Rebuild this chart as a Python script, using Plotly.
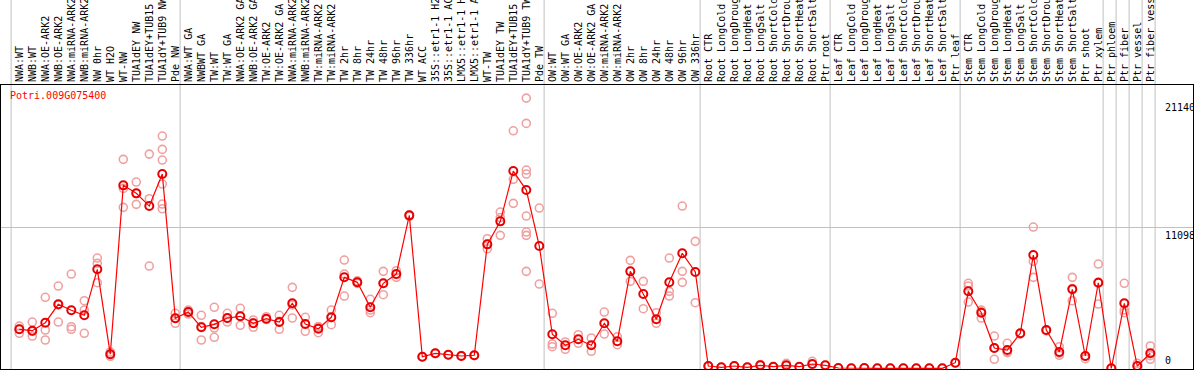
import plotly.graph_objects as go

title_text = "Potri.009G075400"

categories = [
    "NWA:WT", "NWB:WT", "NWA:OE-ARK2", "NWB:OE-ARK2", "NWA:miRNA-ARK2", "NWB:miRNA-ARK2",
    "NW 0hr", "WT H2O", "WT-NW", "TUA1dEY NW", "TUA1dEY+TUB15", "TUA1dY+TUB9 NW", "Pde NW",
    "NWA:WT GA", "NWBWT GA", "TW:WT", "TW:WT GA", "NWA:OE-ARK2 GA", "NWB:OE-ARK2 GA",
    "TW:OE-ARK2", "TW:OE-ARK2 GA", "NWA:miRNA-ARK2 GA", "NWB:miRNA-ARK2 GA", "TW:miRNA-ARK2",
    "TW:miRNA-ARK2 GA", "TW 2hr", "TW 8hr", "TW 24hr", "TW 48hr", "TW 96hr", "TW 336hr",
    "WT ACC", "35S::etr1-1 H2O", "35S::etr1-1 ACC", "LMX5::etr1-1 H2O", "LMX5::etr1-1 ACC",
    "WT-TW", "TUA1dEY TW", "TUA1dEY+TUB15", "TUA1dY+TUB9 TW", "Pde TW",
    "OW:WT", "OW:WT GA", "OW:OE-ARK2", "OW:OE-ARK2 GA", "OW:miRNA-ARK2", "OW:miRNA-ARK2 GA",
    "OW 2hr", "OW 8hr", "OW 24hr", "OW 48hr", "OW 96hr", "OW 336hr",
    "Root CTR", "Root LongCold", "Root LongDrought", "Root LongHeat", "Root LongSalt",
    "Root ShortCold", "Root ShortDrought", "Root ShortHeat", "Root ShortSalt", "Ptr root",
    "Leaf CTR", "Leaf LongCold", "Leaf LongDrought", "Leaf LongHeat", "Leaf LongSalt",
    "Leaf ShortCold", "Leaf ShortDrought", "Leaf ShortHeat", "Leaf ShortSalt", "Ptr leaf",
    "Stem CTR", "Stem LongCold", "Stem LongDrought", "Stem LongHeat", "Stem LongSalt",
    "Stem ShortCold", "Stem ShortDrought", "Stem ShortHeat", "Stem ShortSalt", "Ptr shoot",
    "Ptr xylem", "Ptr phloem", "Ptr fiber", "Ptr vessel", "Ptr fiber vessel",
]

mean_values = [
    3077, 2967, 3598, 5050, 4576, 4182, 7811, 1105, 14439, 13808, 12805, 15330, 3945,
    4442, 3235, 3472, 3969, 4103, 3551, 3914, 3653, 5129, 3495, 3124, 4024, 7180, 6785,
    4813, 6707, 7440, 12072, 915, 1184, 1073, 970, 1026, 9784, 11598, 15567, 14068, 9650,
    2683, 1815, 2288, 1815, 3551, 2130, 7653, 5862, 3866, 6785, 9074, 7598,
    180, 80, 180, 80, 237, 126, 237, 126, 339, 237,
    24, 0, 24, 0, 0, 0, 0, 0, 0, 442,
    6075, 4387, 1602, 1444, 2761, 8939, 3022, 1286, 6233, 970,
    6754, 0, 5129, 180, 1184,
]

replicate_values = [
    [3337, 2761, 3100], [3653, 2548, 2900], [5602, 3022, 2233], [6494, 3653, 5000],
    [7440, 3282, 3077], [5334, 4600, 2761], [8703, 8285, 6754], [1286, 1105, 950],
    [16490, 12703, 14200], [14699, 12940, 13800], [16908, 13381, 8071],
    [18329, 17279, 16435, 14541, 12963, 12593], [4340, 3550, 3950],
    [4600, 4284, 4450], [4182, 2233, 3300], [4813, 2446, 3180], [4340, 3653, 3950],
    [4734, 3393, 4100], [3811, 3235, 3600], [4071, 3850], [4182, 3077, 3700],
    [6391, 3969, 5000], [4024, 2919, 3500], [3250, 2809, 3300], [4600, 3440, 4000],
    [8545, 7440, 5705], [6785, 6900, 6700], [5444, 4387, 4600], [7653, 5807, 6700],
    [7700, 7180, 7400], [12072, 12100, 12000], [915, 900], [1184, 1150], [1073, 1050],
    [970, 1000], [1026, 1000], [10225, 9436, 9800], [12332, 10494, 11900],
    [18747, 14912, 13019], [21327, 19331, 15646, 15330, 12016, 10754, 10494, 7653],
    [12648, 6651],
    [4340, 1917, 1704], [2075, 1499], [2651, 1972], [2391, 1341], [4442, 2706],
    [2493, 1862], [8521, 6864], [6864, 4703], [4387, 3551], [8703, 6075, 5705],
    [12805, 7653, 6785], [10020, 5176],
    [180, 150], [80], [200], [80], [237, 300], [126], [395, 200], [126], [552, 300], [237],
    [24], [0], [24], [0], [0], [0], [0], [0], [0], [442, 400],
    [6707, 6494, 5231], [4600, 3969, 4450], [2548, 710, 1600], [1972, 1231, 1300],
    [2761, 2700], [11148, 8442, 7180], [3022, 2950], [1704, 1026, 1200],
    [7180, 5334, 6300], [757, 970],
    [8229, 5073, 6800], [0], [6707, 4387, 4600], [395, 180], [1759, 710, 1000],
]

# index of last category in each group (group separators)
group_ends = [-1, 12, 40, 52, 62, 72, 83, 84, 85, 86, 87]

y_tick_values = [0, 11098, 21140]

W, H = 1194, 370
ML, MR, MT, MB = 1, 1, 85, 1
FONT = "DejaVu Sans Mono"

idx = list(range(len(categories)))

rep_x, rep_y = [], []
for i, reps in enumerate(replicate_values):
    for v in reps:
        rep_x.append(i)
        rep_y.append(v)

fig = go.Figure()
fig.add_trace(go.Scatter(
    x=rep_x, y=rep_y, mode="markers",
    marker=dict(symbol="circle-open", size=8, color="#f0a0a0", line=dict(width=1.6)),
    hoverinfo="skip", showlegend=False, cliponaxis=False,
))
fig.add_trace(go.Scatter(
    x=idx, y=mean_values, mode="lines+markers",
    line=dict(color="#ff0000", width=1.2),
    marker=dict(symbol="circle-open", size=8, color="#e80000", line=dict(width=2)),
    showlegend=False, cliponaxis=False,
))

# vertical group separators, extending through the label area
for e in group_ends:
    fig.add_shape(type="line", xref="x", yref="paper", x0=e + 0.37, x1=e + 0.37,
                  y0=0, y1=1.35, line=dict(color="#c0c0c0", width=1), layer="below")

# right-side value labels
for v in y_tick_values:
    fig.add_annotation(xref="paper", yref="y", x=(1163 - ML) / (W - ML - MR), y=v,
                       text=str(v), showarrow=False, xanchor="left",
                       yanchor="bottom" if v == 0 else "top",
                       font=dict(family=FONT, size=10, color="black"))

fig.add_annotation(xref="paper", yref="paper", x=(8 - ML) / (W - ML - MR),
                   y=1 - (96 - MT) / (H - MT - MB), text=title_text, showarrow=False,
                   xanchor="left", yanchor="middle",
                   font=dict(family=FONT, size=10, color="#ff0000"))

x_left = (ML - 19.3) / 13.0
x_right = (W - MR - 19.3) / 13.0
y_bottom = (368.3 - (H - MB)) / 0.01267
y_top = (368.3 - MT) / 0.01267

fig.update_layout(
    width=W, height=H, margin=dict(l=ML, r=MR, t=MT, b=MB, pad=0),
    paper_bgcolor="white", plot_bgcolor="white",
    font=dict(family=FONT, size=10, color="black"),
    xaxis=dict(range=[x_left, x_right], side="top", tickmode="array", tickvals=idx,
               ticktext=categories, tickangle=-90, ticks="", showgrid=False,
               zeroline=False, showline=True, linecolor="black", linewidth=1, mirror=True,
               automargin=False, tickfont=dict(family=FONT, size=10, color="black")),
    yaxis=dict(range=[y_bottom, y_top], tickmode="array", tickvals=[y_tick_values[1]],
               showticklabels=False, ticks="", showgrid=True, gridcolor="#c0c0c0",
               gridwidth=1, zeroline=False, showline=True, linecolor="black",
               linewidth=1, mirror=True, automargin=False),
)

fig.write_html(
    "out.html",
    config={"displayModeBar": False},
    post_script="document.body.style.margin='0';document.body.style.overflow='hidden';",
)
